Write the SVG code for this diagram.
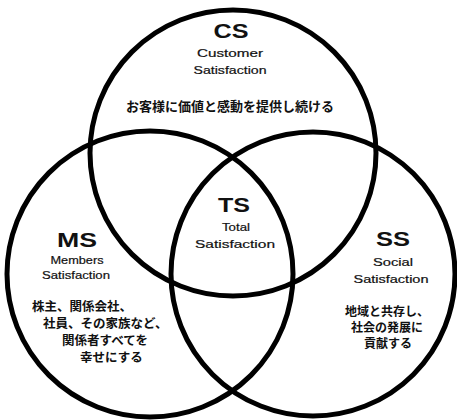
<svg xmlns="http://www.w3.org/2000/svg" width="457" height="420" viewBox="0 0 457 420">
<style>
.c{fill:none;stroke:#000;stroke-width:5}
.big{font-family:"Liberation Sans",Arial,sans-serif;font-size:20px;font-weight:bold;text-anchor:middle;fill:#111}
.sm{font-family:"Liberation Sans",Arial,sans-serif;font-size:11px;text-anchor:middle;fill:#111;stroke:#111;stroke-width:0.2}
.jp{font-family:"Noto Sans CJK JP",sans-serif;font-size:13px;font-weight:bold;fill:#111}
</style>
<rect width="457" height="420" fill="#fff"/>
<g id="connectors"></g>
<g id="cs">
<circle class="c" cx="233" cy="153" r="143"/>
<text class="big" x="231" y="38" textLength="35" lengthAdjust="spacingAndGlyphs">CS</text>
<text class="sm" x="230" y="57" textLength="66" lengthAdjust="spacingAndGlyphs">Customer</text>
<text class="sm" x="230" y="74" textLength="73" lengthAdjust="spacingAndGlyphs">Satisfaction</text>
<text class="jp" x="230" y="111" text-anchor="middle">お客様に価値と感動を提供し続ける</text>
</g>
<g id="ms">
<circle class="c" cx="150" cy="274" r="143"/>
<text class="big" x="77" y="247" textLength="40" lengthAdjust="spacingAndGlyphs">MS</text>
<text class="sm" x="77" y="264" textLength="53" lengthAdjust="spacingAndGlyphs">Members</text>
<text class="sm" x="76" y="279" textLength="68" lengthAdjust="spacingAndGlyphs">Satisfaction</text>
<text class="jp" style="font-size:12.5px"><tspan x="32" y="311">株主、関係会社、</tspan><tspan x="43" y="328">社員、その家族など、</tspan><tspan x="62" y="345">関係者すべてを</tspan><tspan x="80" y="362">幸せにする</tspan></text>
</g>
<g id="ss">
<circle class="c" cx="313" cy="274" r="142"/>
<text class="big" x="393" y="246" textLength="34" lengthAdjust="spacingAndGlyphs">SS</text>
<text class="sm" x="393" y="266" textLength="40" lengthAdjust="spacingAndGlyphs">Social</text>
<text class="sm" x="391" y="283" textLength="75" lengthAdjust="spacingAndGlyphs">Satisfaction</text>
<text class="jp" text-anchor="middle" style="font-size:12px"><tspan x="387" y="316">地域と共存し、</tspan><tspan x="387" y="332">社会の発展に</tspan><tspan x="388" y="348">貢献する</tspan></text>
</g>
<g id="ts">
<text class="big" x="234" y="212" textLength="32" lengthAdjust="spacingAndGlyphs">TS</text>
<text class="sm" x="236" y="231" textLength="28" lengthAdjust="spacingAndGlyphs">Total</text>
<text class="sm" x="235" y="248" textLength="80" lengthAdjust="spacingAndGlyphs">Satisfaction</text>
</g>
</svg>
